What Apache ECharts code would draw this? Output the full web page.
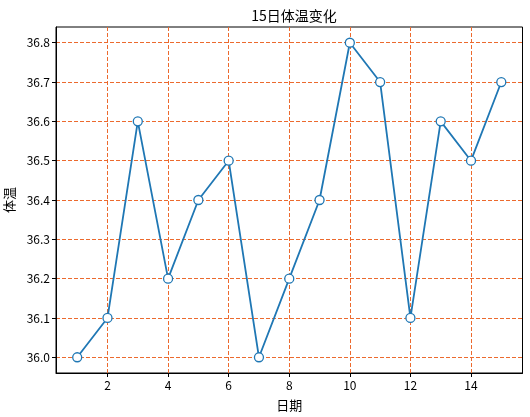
<!DOCTYPE html>
<html><head><meta charset="utf-8">
<script src="https://cdn.jsdelivr.net/npm/echarts@6/dist/echarts.min.js"></script>
<style>html,body{margin:0;padding:0;background:#fff}#c{width:530px;height:417px}</style>
</head><body><div id="c"></div>
<script>
const days = [1,2,3,4,5,6,7,8,9,10,11,12,13,14,15];
const temps = [36.0,36.1,36.6,36.2,36.4,36.5,36.0,36.2,36.4,36.8,36.7,36.1,36.6,36.5,36.7];
const xTicks = [2,4,6,8,10,12,14];
const yTicks = [36.0,36.1,36.2,36.3,36.4,36.5,36.6,36.7,36.8];
const font = '"Noto Sans CJK SC", sans-serif';
const gridColor = '#ec6a2e';
const chart = echarts.init(document.getElementById('c'));
chart.setOption({
  animation:false,
  title:{text:'15日体温变化', left:289, top:4, textAlign:'center',
    textStyle:{fontFamily:font, fontSize:14, fontWeight:'normal', color:'#000'}},
  grid:{left:56, right:7.5, top:27, bottom:44, show:true, borderColor:'#000', borderWidth:1,
    containLabel:false, outerBoundsMode:'none'},
  xAxis:{type:'value', min:0.3, max:15.7, name:'日期', nameLocation:'middle', nameGap:26,
    nameTextStyle:{fontFamily:font, fontSize:13, color:'#000'},
    axisLine:{show:true, onZero:false, lineStyle:{color:'#000'}},
    axisTick:{show:true, inside:false, length:4, customValues:xTicks, lineStyle:{color:'#000'}},
    axisLabel:{customValues:xTicks, fontFamily:font, fontSize:12, color:'#000', margin:6},
    splitLine:{show:true, lineStyle:{color:gridColor, type:[4,2], width:1}}},
  yAxis:{type:'value', min:35.96, max:36.84, name:'体温', nameLocation:'middle', nameGap:38,
    nameTextStyle:{fontFamily:font, fontSize:13, color:'#000'},
    axisLine:{show:true, onZero:false, lineStyle:{color:'#000'}},
    axisTick:{show:true, inside:false, length:4, customValues:yTicks, lineStyle:{color:'#000'}},
    axisLabel:{customValues:yTicks, formatter:v=>Number(v).toFixed(1), fontFamily:font, fontSize:12, color:'#000', margin:6},
    splitLine:{show:true, lineStyle:{color:gridColor, type:[4,2], width:1}}},
  series:[{type:'line', data:days.map((d,i)=>[d,temps[i]]), symbol:'circle', symbolSize:9,
    lineStyle:{color:'#1f77b4', width:1.8},
    itemStyle:{color:'#fff', borderColor:'#1f77b4', borderWidth:1.3}}]
});
</script></body></html>
